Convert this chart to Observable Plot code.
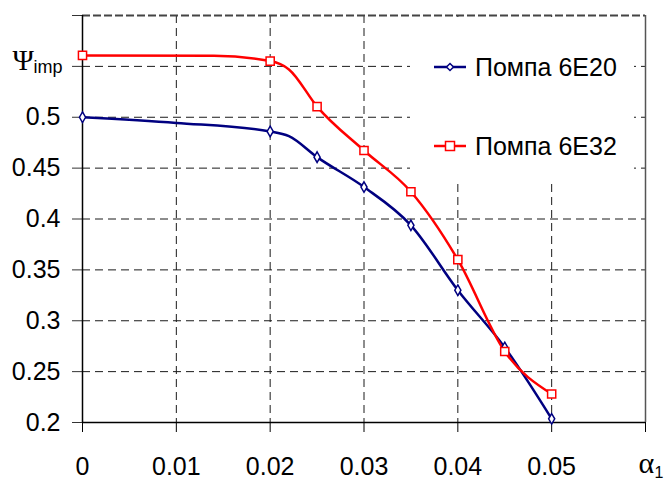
<!DOCTYPE html>
<html>
<head>
<meta charset="utf-8">
<script src="https://cdn.jsdelivr.net/npm/d3@7"></script>
<script src="https://cdn.jsdelivr.net/npm/@observablehq/plot@0.6"></script>
<style>
  html, body { margin: 0; padding: 0; background: #fff; }
  #wrap { position: relative; width: 669px; height: 480px; font-family: "Liberation Sans", Arial, sans-serif; }
  #legend { position: absolute; left: 410px; top: 17px; width: 224px; height: 167px; background: #fff; }
  .entry { position: absolute; left: 24px; height: 30px; display: flex; align-items: center; font-size: 25px; color: #000; white-space: nowrap; }
  .entry svg { margin-right: 8px; }
</style>
</head>
<body>
<div id="wrap"></div>
<script>
// ---- data ----
const seriesNames = ["Помпа 6E20", "Помпа 6E32"];
const seriesColors = ["#000080", "#ff0000"];

// Помпа 6E20 (blue)
const blueAlpha  = [0, 0.01, 0.02, 0.022, 0.025, 0.03, 0.035, 0.04, 0.045, 0.05];
const bluePsi    = [0.5, 0.4944, 0.486, 0.4814, 0.4608, 0.4314, 0.3938, 0.330, 0.2738, 0.2036];
const blueMarked = [1, 0, 1, 0, 1, 1, 1, 1, 1, 1];

// Помпа 6E32 (red)
const redAlpha  = [0, 0.014, 0.02, 0.022, 0.025, 0.03, 0.035, 0.04, 0.045, 0.05];
const redPsi    = [0.5608, 0.5605, 0.5552, 0.547, 0.5105, 0.4673, 0.4268, 0.360, 0.2698, 0.228];
const redMarked = [1, 0, 1, 0, 1, 1, 1, 1, 1, 1];

// ticks
const xTicks = [0, 0.01, 0.02, 0.03, 0.04, 0.05, 0.06];
const xTickLabels = ["0", "0.01", "0.02", "0.03", "0.04", "0.05", ""];
const yTicks = [0.2, 0.25, 0.3, 0.35, 0.4, 0.45, 0.5, 0.55, 0.6];
const yTickLabels = ["0.2", "0.25", "0.3", "0.35", "0.4", "0.45", "0.5", "", ""];

const yTitle = "Ψ", yTitleSub = "imp";
const xTitle = "α", xTitleSub = "1";

// ---- build tables ----
const blue = blueAlpha.map((a, i) => ({a, psi: bluePsi[i], m: blueMarked[i]}));
const red = redAlpha.map((a, i) => ({a, psi: redPsi[i], m: redMarked[i]}));

const innerX = xTicks.slice(1, -1);
const innerY = yTicks.slice(1, -1);

const chart = Plot.plot({
  width: 669,
  height: 480,
  marginLeft: 82,
  marginRight: 24,
  marginTop: 15,
  marginBottom: 58,
  x: {domain: [0, 0.06], label: null},
  y: {domain: [0.2, 0.6], label: null},
  style: {fontFamily: "'Liberation Sans', Arial, sans-serif", fontSize: "25px", color: "#000", background: "#fff", overflow: "visible"},
  marks: [
    Plot.gridX(innerX, {stroke: "#1a1a1a", strokeOpacity: 1, strokeWidth: 1, strokeDasharray: "8,5"}),
    Plot.gridY(innerY, {stroke: "#1a1a1a", strokeOpacity: 1, strokeWidth: 1, strokeDasharray: "8,5"}),
    Plot.ruleY([0.6], {stroke: "#444", strokeWidth: 2, strokeDasharray: "8,3"}),
    Plot.ruleX([0.06], {stroke: "#555", strokeWidth: 1.5}),
    Plot.axisX(xTicks, {tickSize: 10, tickPadding: 25, fontSize: 25, stroke: "#000", label: null,
      tickFormat: d => xTickLabels[xTicks.indexOf(d)]}),
    Plot.axisY(yTicks, {tickSize: 10, tickPadding: 12, fontSize: 25, stroke: "#333", label: null,
      tickFormat: d => yTickLabels[yTicks.indexOf(d)]}),
    Plot.ruleX([0], {stroke: "#000", strokeWidth: 1.5}),
    Plot.ruleY([0.2], {stroke: "#000", strokeWidth: 1.5}),
    Plot.line(blue, {x: "a", y: "psi", stroke: seriesColors[0], strokeWidth: 2.5, curve: "monotone-x"}),
    Plot.line(red, {x: "a", y: "psi", stroke: seriesColors[1], strokeWidth: 2.5, curve: "monotone-x"}),
    Plot.dot(blue.filter(d => d.m), {x: "a", y: "psi", symbol: "diamond", r: 3.2, fill: "#fff", stroke: seriesColors[0], strokeWidth: 1.5}),
    Plot.dot(red.filter(d => d.m), {x: "a", y: "psi", symbol: "square", r: 4.6, fill: "#fff", stroke: seriesColors[1], strokeWidth: 1.5}),
    Plot.text([yTitle], {x: 0, y: 0.55, text: d => d, textAnchor: "start", dx: -70, dy: -6, fontSize: 29, fontFamily: "'Liberation Serif', 'Times New Roman', serif"}),
    Plot.text([yTitleSub], {x: 0, y: 0.55, text: d => d, textAnchor: "start", dx: -49, dy: 1, fontSize: 18}),
    Plot.text([xTitle], {x: 0.06, y: 0.2, text: d => d, textAnchor: "start", dx: -7, dy: 41, fontSize: 30, fontFamily: "'Liberation Serif', 'Times New Roman', serif"}),
    Plot.text([xTitleSub], {x: 0.06, y: 0.2, text: d => d, textAnchor: "start", dx: 9, dy: 50, fontSize: 16})
  ]
});

const wrap = document.getElementById("wrap");
wrap.appendChild(chart);

// legend (HTML overlay inside the plot frame)
const legend = document.createElement("div");
legend.id = "legend";
const entryTops = [35, 114];
seriesNames.forEach((name, i) => {
  const e = document.createElement("div");
  e.className = "entry";
  e.style.top = entryTops[i] + "px";
  const marker = i === 0
    ? `<path d="M16,11.5 L19.5,15 L16,18.5 L12.5,15 Z" fill="#fff" stroke="${seriesColors[i]}" stroke-width="1.5"/>`
    : `<rect x="11.5" y="10.5" width="9" height="9" fill="#fff" stroke="${seriesColors[i]}" stroke-width="1.5"/>`;
  e.innerHTML = `<svg width="33" height="30"><line x1="0" y1="15" x2="32" y2="15" stroke="${seriesColors[i]}" stroke-width="2.5"/>${marker}</svg><span>${name}</span>`;
  legend.appendChild(e);
});
wrap.appendChild(legend);
</script>
</body>
</html>
